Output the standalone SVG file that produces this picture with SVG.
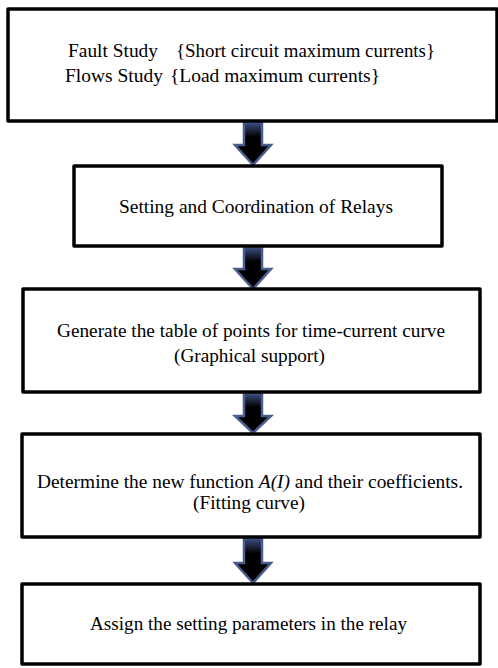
<svg xmlns="http://www.w3.org/2000/svg" width="498" height="668" viewBox="0 0 498 668">
<defs>
<linearGradient id="ag" x1="0" y1="0" x2="0" y2="1">
<stop offset="0" stop-color="#3f5185"/>
<stop offset="0.35" stop-color="#000"/>
<stop offset="1" stop-color="#000"/>
</linearGradient>
<style>
.box{fill:#fff;stroke:#000;stroke-width:3.5;stroke-linejoin:round}
.t{font-family:"Liberation Serif","Times New Roman",serif;font-size:19px;fill:#000}
.arr{fill:url(#ag);stroke:#4a5d8f;stroke-width:2.5;stroke-linejoin:miter}
</style>
</defs>
<rect width="498" height="668" fill="#fff"/>
<g id="connectors">
<path class="arr" d="M244,122 H262 V145 H271 L253,165 L235,145 H244 Z"/>
<path class="arr" d="M244,247 H262 V269 H271 L253,289 L235,269 H244 Z"/>
<path class="arr" d="M244,393 H262 V416 H271 L253,433 L235,416 H244 Z"/>
<path class="arr" d="M244,538 H262 V563 H271 L253,583 L235,563 H244 Z"/>
</g>
<g id="n1">
<rect class="box" x="8" y="9" width="489" height="112"/>
<text class="t" x="68" y="57" textLength="90" lengthAdjust="spacingAndGlyphs">Fault Study</text>
<text class="t" x="176" y="57" textLength="259" lengthAdjust="spacingAndGlyphs">{Short circuit maximum currents}</text>
<text class="t" x="65" y="82" textLength="98" lengthAdjust="spacingAndGlyphs">Flows Study</text>
<text class="t" x="170" y="82" textLength="210" lengthAdjust="spacingAndGlyphs">{Load maximum currents}</text>
</g>
<g id="n2">
<rect class="box" x="74" y="166" width="368" height="80"/>
<text class="t" x="119" y="213" textLength="274" lengthAdjust="spacingAndGlyphs">Setting and Coordination of Relays</text>
</g>
<g id="n3">
<rect class="box" x="23" y="289" width="457" height="103"/>
<text class="t" x="57" y="337" textLength="388" lengthAdjust="spacingAndGlyphs">Generate the table of points for time-current curve</text>
<text class="t" x="174" y="362" textLength="151" lengthAdjust="spacingAndGlyphs">(Graphical support)</text>
</g>
<g id="n4">
<rect class="box" x="22" y="434" width="458" height="103"/>
<text class="t" x="37" y="488" textLength="426" lengthAdjust="spacingAndGlyphs">Determine the new function <tspan font-style="italic">A(I)</tspan> and their coefficients.</text>
<text class="t" x="193" y="509" textLength="112" lengthAdjust="spacingAndGlyphs">(Fitting curve)</text>
</g>
<g id="n5">
<rect class="box" x="22" y="584" width="458" height="80"/>
<text class="t" x="90" y="630" textLength="317" lengthAdjust="spacingAndGlyphs">Assign the setting parameters in the relay</text>
</g>
</svg>
